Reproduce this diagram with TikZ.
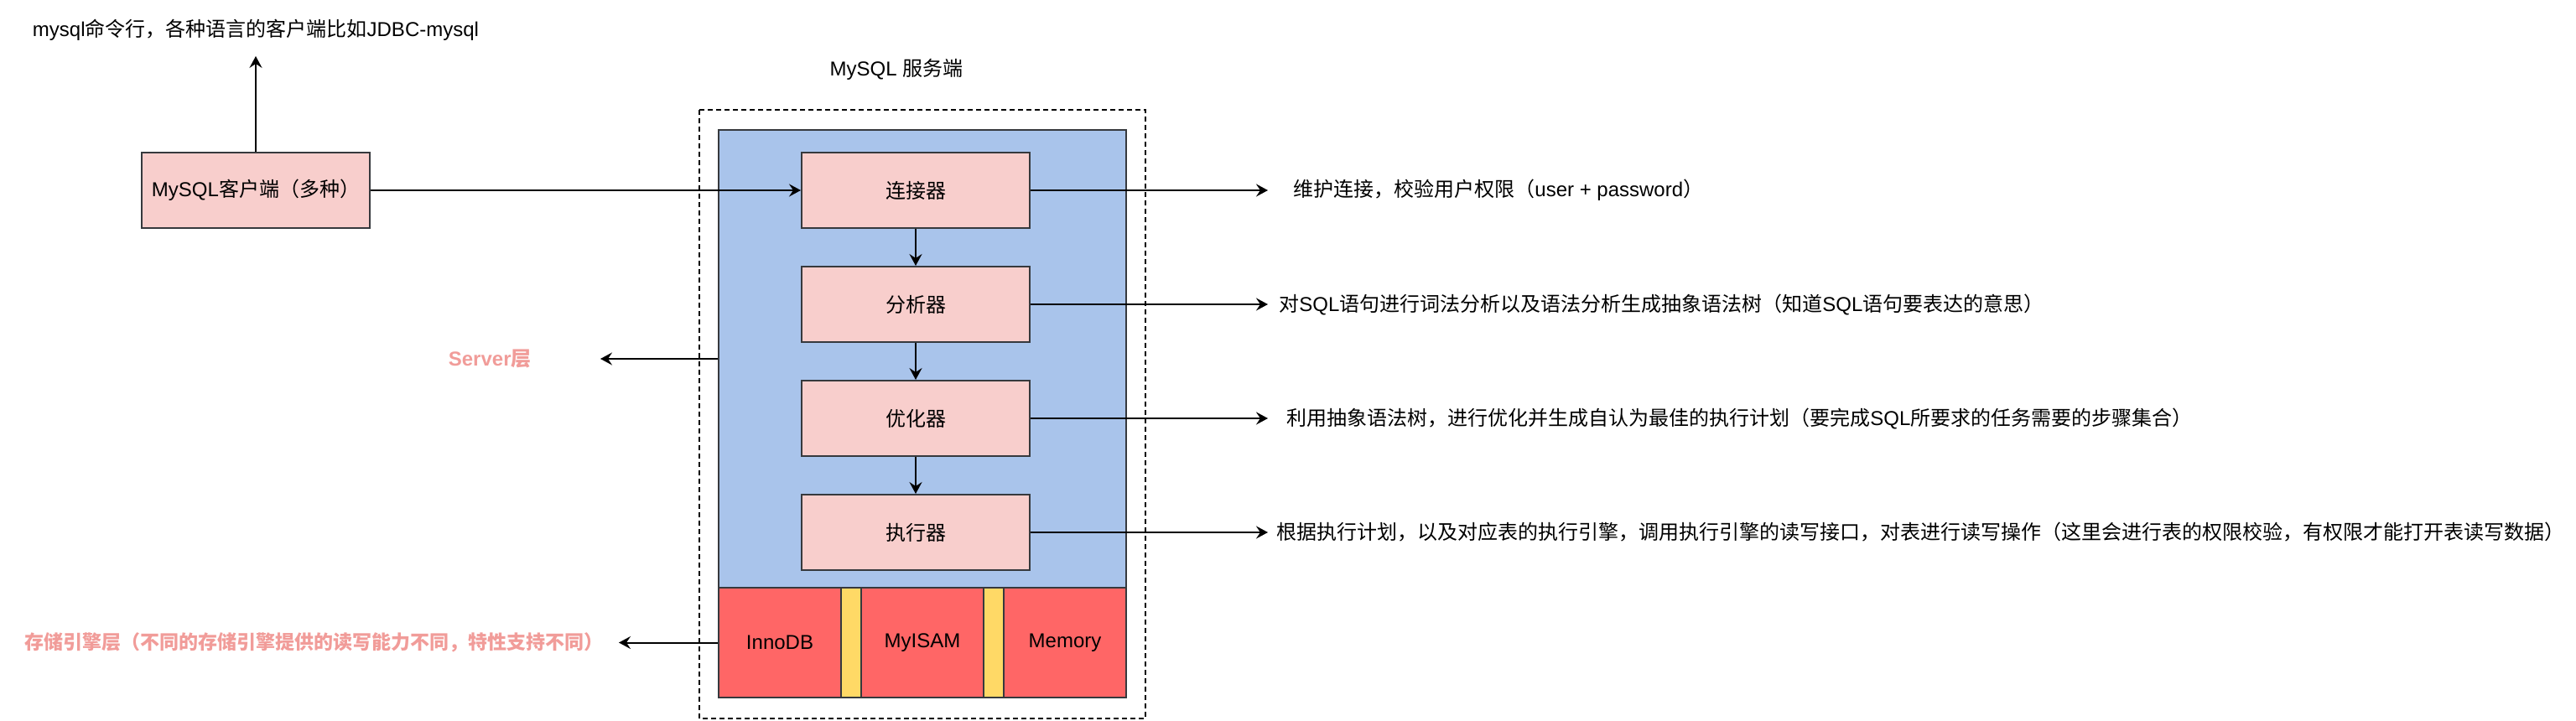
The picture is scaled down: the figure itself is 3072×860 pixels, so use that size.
\documentclass[tikz,border=0pt]{standalone}
\usepackage{fontspec}
\setmainfont{Liberation Sans}
\newfontfamily\cjk{Noto Sans CJK SC}
\usetikzlibrary{arrows.meta,positioning}

\definecolor{boxpink}{HTML}{F8CECC}
\definecolor{boxline}{HTML}{36393D}
\definecolor{srvblue}{HTML}{A9C4EB}
\definecolor{engred}{HTML}{FF6666}
\definecolor{engyellow}{HTML}{FFD966}
\definecolor{layertext}{HTML}{F19C99}

\newcommand{\diagfont}{\fontsize{12pt}{14pt}\selectfont}

\tikzset{
	stagebox/.style={draw=boxline, fill=boxpink, line width=1pt, minimum width=136pt, minimum height=45pt, inner sep=0pt},
	serverbox/.style={draw=boxline, fill=srvblue, line width=1pt, minimum width=243pt, minimum height=273pt, inner sep=0pt},
	engbox/.style={draw=boxline, fill=engred, line width=1pt, minimum width=73pt, minimum height=65.5pt, inner sep=0pt},
	gapbox/.style={draw=boxline, fill=engyellow, line width=1pt, minimum width=12pt, minimum height=65.5pt, inner sep=0pt},
	flow/.style={-{Stealth[length=7pt,width=7.5pt,inset=2.5pt]}, line width=1pt},
	notetext/.style={inner sep=0pt, font=\diagfont},
	layernote/.style={inner sep=0pt, text=layertext, font=\diagfont\bfseries},
}

\begin{document}
\begin{tikzpicture}[x=0.5pt, y=-0.5pt, every node/.append style={font=\diagfont}]
\useasboundingbox (0,0) rectangle (3072,860);

\pgfmathsetmacro{\engY}{766.5}
\pgfmathsetmacro{\colX}{1092}

\draw[line width=0.8pt, dash pattern=on 3pt off 2pt] (834,131) rectangle (1366,857);
\node (srvtitle) at (1069,83) {MySQL {\cjk 服务端}};

\node[serverbox] (server) at (1100,428) {};
\node[engbox] (innodb) at (930,\engY) {InnoDB};
\node[gapbox] (gapa) at (1015,\engY) {};
\node[engbox] (myisam) at (1100,\engY) {MyISAM};
\node[gapbox] (gapb) at (1185,\engY) {};
\node[engbox] (memory) at (1270,\engY) {Memory};

\node[stagebox] (conn) at (\colX,227) {{\cjk 连接器}};
\node[stagebox, below=22pt of conn] (parse) {{\cjk 分析器}};
\node[stagebox, below=22pt of parse] (optim) {{\cjk 优化器}};
\node[stagebox, below=22pt of optim] (exec) {{\cjk 执行器}};

\node[stagebox] (client) at (305,227) {MySQL{\cjk 客户端（多种）}};
\coordinate (clitip) at (305,67);
\node[notetext, above=9pt of clitip] (clinote) {mysql{\cjk 命令行，各种语言的客户端比如}JDBC-mysql};

\draw[flow] (client) -- (clitip);
\draw[flow] (client) -- (conn);
\draw[flow] (conn) -- (parse);
\draw[flow] (parse) -- (optim);
\draw[flow] (optim) -- (exec);

\coordinate (tipcol) at (1512,0);
\foreach \s in {conn,parse,optim,exec}
	\coordinate (\s tip) at (\s.east -| tipcol);
\foreach \s in {conn,parse,optim,exec}
	\draw[flow] (\s) -- (\s tip);

\node[notetext, right=15pt of conntip] (connnote) {{\cjk 维护连接，校验用户权限（}user + password{\cjk ）}};
\node[notetext, right=6.5pt of parsetip] (parsenote) {{\cjk 对}SQL{\cjk 语句进行词法分析以及语法分析生成抽象语法树（知道}SQL{\cjk 语句要表达的意思）}};
\node[notetext, right=11pt of optimtip] (optimnote) {{\cjk 利用抽象语法树，进行优化并生成自认为最佳的执行计划（要完成}SQL{\cjk 所要求的任务需要的步骤集合）}};
\node[notetext, right=5pt of exectip] (execnote) {{\cjk 根据执行计划，以及对应表的执行引擎，调用执行引擎的读写接口，对表进行读写操作（这里会进行表的权限校验，有权限才能打开表读写数据）}};

\coordinate (srvtip) at (716,428);
\coordinate (engtip) at (738,\engY);
\draw[flow] (server) -- (srvtip);
\draw[flow] (innodb) -- (engtip);
\node[layernote, left=41pt of srvtip] (srvnote) {Server{\cjk 层}};
\node[layernote, left=9pt of engtip, font=\fontsize{11.5pt}{14pt}\selectfont\bfseries] (engnote) {{\cjk 存储引擎层（不同的存储引擎提供的读写能力不同，特性支持不同）}};
\end{tikzpicture}
\end{document}
